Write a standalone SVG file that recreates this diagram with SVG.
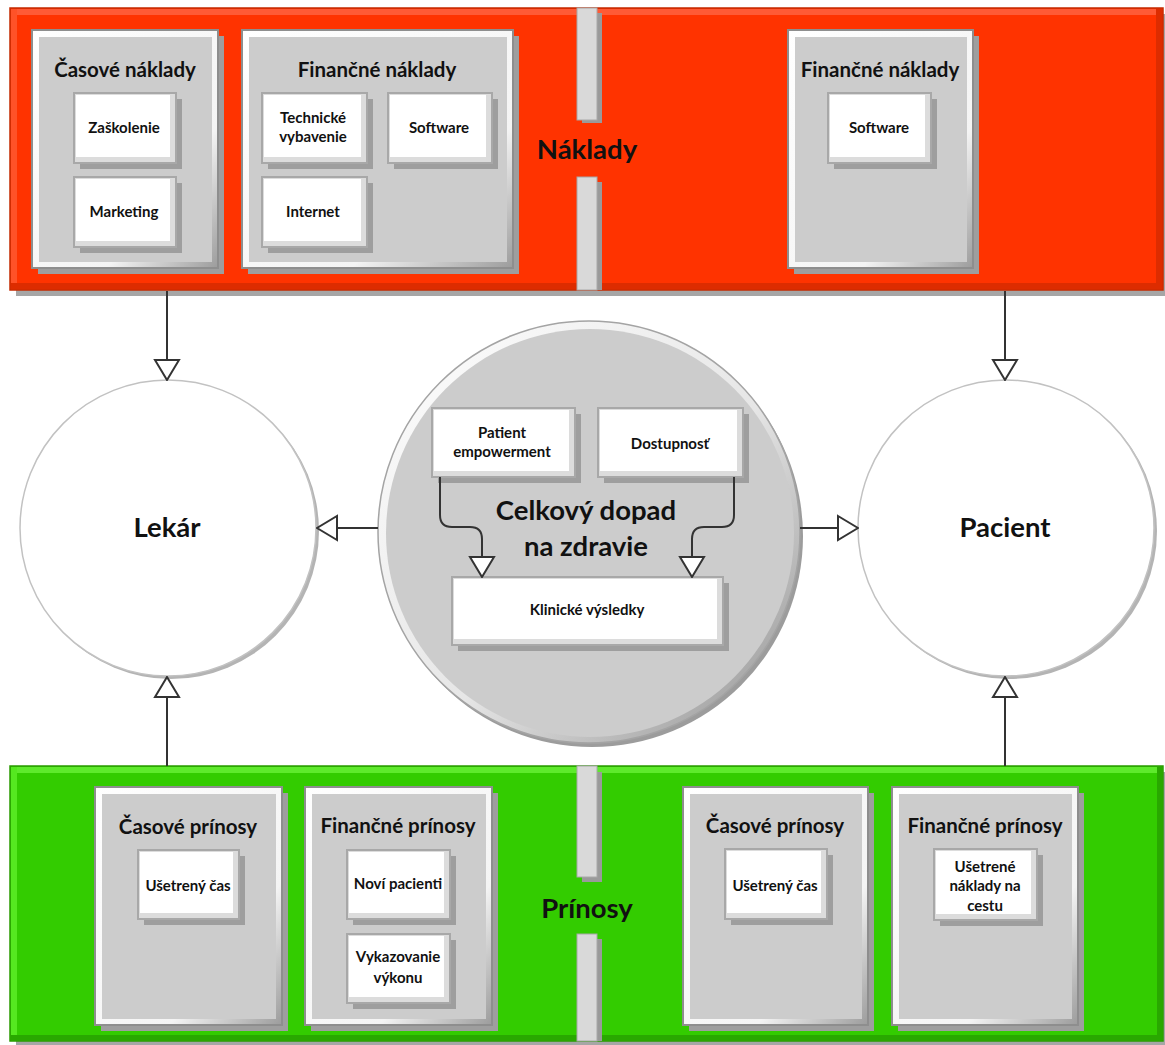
<svg xmlns="http://www.w3.org/2000/svg" width="1165" height="1045" viewBox="0 0 1165 1045">
<style>
text{font-family:Lato,"Liberation Sans","DejaVu Sans",sans-serif;font-weight:700;fill:#111;text-anchor:middle}
.t1{font-size:20.5px}
.t2{font-size:15px}
.t3{font-size:27.5px}
.shd{fill:#9e9e9e}
.cfr{fill:url(#frameG);stroke:#8e8e8e;stroke-width:2}
.cin{fill:#cccccc}
.bfr{fill:#dcdcdc;stroke:#a8a8a8;stroke-width:2}
.bin{fill:#ffffff}
.div{fill:#d9d9d9;stroke:#a8a8a8;stroke-width:1}
.dsh{fill:#9a9a9a}
.ln{fill:none;stroke:#333;stroke-width:2}
</style>
<defs>
<linearGradient id="frameG" x1="0" y1="0" x2="1" y2="1">
<stop offset="0" stop-color="#ffffff"/><stop offset="0.7" stop-color="#f4f4f4"/><stop offset="1" stop-color="#9c9c9c"/>
</linearGradient>
<linearGradient id="ringG" x1="0" y1="0" x2="1" y2="1">
<stop offset="0" stop-color="#ffffff"/><stop offset="0.55" stop-color="#e6e6e6"/><stop offset="1" stop-color="#8e8e8e"/>
</linearGradient>
<marker id="ah" viewBox="0 0 22 28" refX="21" refY="14" markerWidth="22" markerHeight="28" markerUnits="userSpaceOnUse" orient="auto">
<path d="M1,2 L21,14 L1,26 Z" fill="#fff" stroke="#333" stroke-width="2"/>
</marker>
</defs>

<!-- Red band -->
<g id="naklady">
<rect x="16" y="14" width="1153" height="282" fill="#a6a6a6"/>
<rect x="10" y="8" width="1153" height="282" fill="#ff3300" stroke="#c42a00" stroke-width="1.5"/>
<rect x="11" y="9" width="1151" height="6" fill="#ff5a35"/>
<rect x="11" y="9" width="6" height="280" fill="#ff5228"/>
<rect x="11" y="283" width="1151" height="6" fill="#dd2c00"/>
<rect x="1156" y="9" width="6" height="280" fill="#dd2c00"/>
<rect x="582" y="13" width="20" height="110" class="dsh"/>
<rect x="577" y="8" width="20" height="112" class="div"/>
<rect x="582" y="182" width="20" height="108" class="dsh"/>
<rect x="577" y="177" width="20" height="113" class="div"/>
<text class="t3" x="587" y="159">Náklady</text>
</g>

<g id="casove-naklady">
<rect class="shd" x="38" y="36" width="186" height="238"/>
<rect class="cfr" x="32" y="30" width="186" height="238"/>
<rect class="cin" x="39" y="37" width="173" height="225"/>
<text class="t1" x="125" y="77">Časové náklady</text>
</g>
<g id="zaskolenie">
<rect class="shd" x="80" y="99" width="102" height="70"/>
<rect class="bfr" x="74" y="93" width="102" height="70"/>
<rect class="bin" x="76" y="95" width="94" height="62"/>
<text class="t2" x="124" y="133">Zaškolenie</text>
</g>
<g id="marketing">
<rect class="shd" x="80" y="183" width="102" height="70"/>
<rect class="bfr" x="74" y="177" width="102" height="70"/>
<rect class="bin" x="76" y="179" width="94" height="62"/>
<text class="t2" x="124" y="217">Marketing</text>
</g>

<g id="financne-naklady-1">
<rect class="shd" x="248" y="36" width="271" height="238"/>
<rect class="cfr" x="242" y="30" width="271" height="238"/>
<rect class="cin" x="249" y="37" width="258" height="225"/>
<text class="t1" x="377" y="77">Finančné náklady</text>
</g>
<g id="technicke">
<rect class="shd" x="268" y="99" width="105" height="70"/>
<rect class="bfr" x="262" y="93" width="105" height="70"/>
<rect class="bin" x="264" y="95" width="97" height="62"/>
<text class="t2" x="313" y="123">Technické</text>
<text class="t2" x="313" y="142">vybavenie</text>
</g>
<g id="software-1">
<rect class="shd" x="394" y="99" width="104" height="70"/>
<rect class="bfr" x="388" y="93" width="104" height="70"/>
<rect class="bin" x="390" y="95" width="96" height="62"/>
<text class="t2" x="439" y="133">Software</text>
</g>
<g id="internet">
<rect class="shd" x="268" y="183" width="105" height="70"/>
<rect class="bfr" x="262" y="177" width="105" height="70"/>
<rect class="bin" x="264" y="179" width="97" height="62"/>
<text class="t2" x="313" y="217">Internet</text>
</g>

<g id="financne-naklady-2">
<rect class="shd" x="794" y="36" width="185" height="238"/>
<rect class="cfr" x="788" y="30" width="185" height="238"/>
<rect class="cin" x="795" y="37" width="172" height="225"/>
<text class="t1" x="880" y="77">Finančné náklady</text>
</g>
<g id="software-2">
<rect class="shd" x="834" y="99" width="103" height="70"/>
<rect class="bfr" x="828" y="93" width="103" height="70"/>
<rect class="bin" x="830" y="95" width="95" height="62"/>
<text class="t2" x="879" y="133">Software</text>
</g>

<!-- Green band -->
<g id="prinosy">
<rect x="16" y="772" width="1153" height="275" fill="#a6a6a6"/>
<rect x="10" y="766" width="1153" height="275" fill="#33cc00" stroke="#2a9a00" stroke-width="1.5"/>
<rect x="11" y="767" width="1151" height="6" fill="#5eea2c"/>
<rect x="11" y="767" width="6" height="273" fill="#55e820"/>
<rect x="11" y="1035" width="1151" height="5" fill="#29a800"/>
<rect x="1157" y="767" width="5" height="273" fill="#29a800"/>
<rect x="582" y="772" width="20" height="110" class="dsh"/>
<rect x="577" y="766" width="20" height="111" class="div"/>
<rect x="582" y="939" width="20" height="102" class="dsh"/>
<rect x="577" y="934" width="20" height="107" class="div"/>
<text class="t3" x="587" y="918">Prínosy</text>
</g>

<g id="casove-prinosy-1">
<rect class="shd" x="101" y="793" width="187" height="238"/>
<rect class="cfr" x="95" y="787" width="187" height="238"/>
<rect class="cin" x="102" y="794" width="174" height="225"/>
<text class="t1" x="188" y="834">Časové prínosy</text>
</g>
<g id="usetreny-cas-1">
<rect class="shd" x="144" y="856" width="101" height="69"/>
<rect class="bfr" x="138" y="850" width="101" height="69"/>
<rect class="bin" x="140" y="852" width="93" height="61"/>
<text class="t2" x="188" y="891">Ušetrený čas</text>
</g>

<g id="financne-prinosy-1">
<rect class="shd" x="311" y="793" width="187" height="238"/>
<rect class="cfr" x="305" y="787" width="187" height="238"/>
<rect class="cin" x="312" y="794" width="174" height="225"/>
<text class="t1" x="398" y="833">Finančné prínosy</text>
</g>
<g id="novi-pacienti">
<rect class="shd" x="353" y="856" width="103" height="69"/>
<rect class="bfr" x="347" y="850" width="103" height="69"/>
<rect class="bin" x="349" y="852" width="95" height="61"/>
<text class="t2" x="398" y="889">Noví pacienti</text>
</g>
<g id="vykazovanie">
<rect class="shd" x="353" y="940" width="103" height="69"/>
<rect class="bfr" x="347" y="934" width="103" height="69"/>
<rect class="bin" x="349" y="936" width="95" height="61"/>
<text class="t2" x="398" y="962">Vykazovanie</text>
<text class="t2" x="398" y="983">výkonu</text>
</g>

<g id="casove-prinosy-2">
<rect class="shd" x="689" y="793" width="185" height="238"/>
<rect class="cfr" x="683" y="787" width="185" height="238"/>
<rect class="cin" x="690" y="794" width="172" height="225"/>
<text class="t1" x="775" y="833">Časové prínosy</text>
</g>
<g id="usetreny-cas-2">
<rect class="shd" x="731" y="855" width="102" height="70"/>
<rect class="bfr" x="725" y="849" width="102" height="70"/>
<rect class="bin" x="727" y="851" width="94" height="62"/>
<text class="t2" x="775" y="891">Ušetrený čas</text>
</g>

<g id="financne-prinosy-2">
<rect class="shd" x="898" y="793" width="186" height="238"/>
<rect class="cfr" x="892" y="787" width="186" height="238"/>
<rect class="cin" x="899" y="794" width="173" height="225"/>
<text class="t1" x="985" y="833">Finančné prínosy</text>
</g>
<g id="usetrene-naklady">
<rect class="shd" x="940" y="855" width="103" height="71"/>
<rect class="bfr" x="934" y="849" width="103" height="71"/>
<rect class="bin" x="936" y="851" width="95" height="63"/>
<text class="t2" x="985" y="872">Ušetrené</text>
<text class="t2" x="985" y="891">náklady na</text>
<text class="t2" x="985" y="911">cestu</text>
</g>

<!-- Circles -->
<g id="lekar">
<circle cx="171" cy="531" r="148" fill="#b4b4b4"/>
<circle cx="168" cy="528" r="148" fill="#fff" stroke="#c2c2c2" stroke-width="1.5"/>
<text class="t3" x="167" y="537">Lekár</text>
</g>
<g id="pacient">
<circle cx="1009" cy="531" r="148" fill="#b4b4b4"/>
<circle cx="1006" cy="528" r="148" fill="#fff" stroke="#c2c2c2" stroke-width="1.5"/>
<text class="t3" x="1005" y="537">Pacient</text>
</g>

<g id="celkovy-dopad">
<circle cx="592" cy="536" r="211" fill="#9c9c9c"/>
<circle cx="589" cy="532" r="211" fill="url(#ringG)" stroke="#a4a4a4" stroke-width="1.5"/>
<circle cx="590" cy="533" r="204" fill="#cccccc"/>
<text class="t3" x="586" y="520">Celkový dopad</text>
<text class="t3" x="586" y="556">na zdravie</text>
</g>
<g id="patient-empowerment">
<rect class="shd" x="438" y="414" width="143" height="69"/>
<rect class="bfr" x="432" y="408" width="143" height="69"/>
<rect class="bin" x="434" y="410" width="135" height="61"/>
<text class="t2" x="502" y="438">Patient</text>
<text class="t2" x="502" y="457">empowerment</text>
</g>
<g id="dostupnost">
<rect class="shd" x="604" y="414" width="145" height="69"/>
<rect class="bfr" x="598" y="408" width="145" height="69"/>
<rect class="bin" x="600" y="410" width="137" height="61"/>
<text class="t2" x="670" y="449">Dostupnosť</text>
</g>
<g id="klinicke-vysledky">
<rect class="shd" x="458" y="583" width="271" height="68"/>
<rect class="bfr" x="452" y="577" width="271" height="68"/>
<rect class="bin" x="454" y="579" width="263" height="60"/>
<text class="t2" x="587" y="615">Klinické výsledky</text>
</g>

<!-- Connectors -->
<g id="connectors">
<path class="ln" d="M167,291 V380" marker-end="url(#ah)"/>
<path class="ln" d="M1005,291 V380" marker-end="url(#ah)"/>
<path class="ln" d="M167,766 V677" marker-end="url(#ah)"/>
<path class="ln" d="M1005,766 V677" marker-end="url(#ah)"/>
<path class="ln" d="M378,528 H317" marker-end="url(#ah)"/>
<path class="ln" d="M800,528 H858" marker-end="url(#ah)"/>
<path class="ln" d="M440,477 V515 Q440,527 452,527 H470 Q482,527 482,539 V577" marker-end="url(#ah)"/>
<path class="ln" d="M734,477 V515 Q734,527 722,527 H704 Q692,527 692,539 V577" marker-end="url(#ah)"/>
</g>
</svg>
